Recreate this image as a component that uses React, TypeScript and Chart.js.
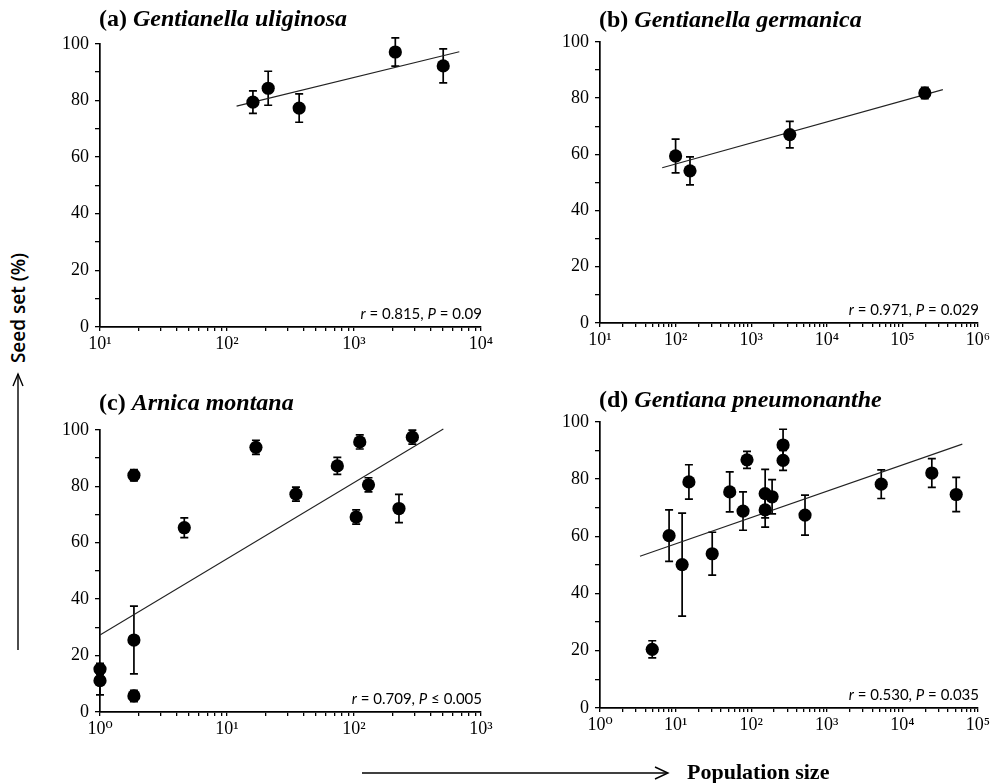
import React, { useEffect, useRef } from 'react';
import { Chart, registerables } from 'chart.js';

Chart.register(...registerables);

// ---- Data ----
const yTickLabels = [0, 20, 40, 60, 80, 100];

// (a) Gentianella uliginosa
const aDecades = [1, 2, 3, 4];
const aX = [160, 211, 370, 2115, 5040];
const aY = [79.4, 84.3, 77.3, 97.1, 92.2];
const aErr = [4, 6, 5, 5, 6];
const aLineX = [119, 6750];
const aLineY = [78, 97.2];

// (b) Gentianella germanica
const bDecades = [1, 2, 3, 4, 5, 6];
const bX = [100, 155, 3240, 198000];
const bY = [59.4, 54.1, 67, 81.8];
const bErr = [6, 5, 4.7, 2];
const bLineX = [66.5, 343000];
const bLineY = [55.2, 83];

// (c) Arnica montana
const cDecades = [0, 1, 2, 3];
const cX = [1, 1, 1.85, 1.85, 1.85, 4.61, 16.9, 34.9, 73.9, 104, 111, 130, 226, 288];
const cY = [15.2, 11.1, 83.9, 25.5, 5.7, 65.3, 93.8, 77.2, 87.2, 69.1, 95.7, 80.5, 72.1, 97.4];
const cErr = [2, 5, 2, 12, 2, 3.5, 2.5, 2.5, 3, 2.5, 2.5, 2.5, 5, 2.5];
const cLineX = [1, 505];
const cLineY = [27.3, 100.3];

// (d) Gentiana pneumonanthe
const dDecades = [0, 1, 2, 3, 4, 5];
const dX = [4.91, 8.2, 12.2, 15, 30.5, 52, 78, 88, 153, 153, 189, 264, 264, 515, 5250, 24500, 51500];
const dY = [20.5, 60.2, 50.1, 79, 53.9, 75.5, 68.8, 86.7, 74.9, 69.2, 73.8, 91.9, 86.5, 67.4, 78.2, 82.1, 74.6];
const dErr = [3, 9, 18, 6, 7.5, 7, 6.7, 3, 8.5, 6, 6, 5.5, 3.5, 7, 5, 5, 6];
const dLineX = [3.38, 62000];
const dLineY = [53, 92.2];

const SUP: Record<string, string> = {
  '0': '\u2070', '1': '\u00B9', '2': '\u00B2', '3': '\u00B3', '4': '\u2074',
  '5': '\u2075', '6': '\u2076', '7': '\u2077', '8': '\u2078', '9': '\u2079',
};

const SERIF = '"Liberation Serif", "DejaVu Serif", serif';

const errorBarPlugin = {
  id: 'errorBars',
  beforeDatasetsDraw(chart: any, _args: any, opts: any) {
    const errs: number[] = opts && opts.errs ? opts.errs : [];
    const meta = chart.getDatasetMeta(0);
    const ys = chart.scales.y;
    const ctx = chart.ctx;
    const data = chart.data.datasets[0].data as any[];
    ctx.save();
    ctx.strokeStyle = '#000';
    ctx.lineWidth = 1.7;
    meta.data.forEach((pt: any, i: number) => {
      const e = errs[i];
      if (!e) return;
      const v = data[i].y;
      const top = ys.getPixelForValue(v + e);
      const bot = ys.getPixelForValue(v - e);
      const x = pt.x;
      ctx.beginPath();
      ctx.moveTo(x, top);
      ctx.lineTo(x, bot);
      ctx.moveTo(x - 4, top);
      ctx.lineTo(x + 4, top);
      ctx.moveTo(x - 4, bot);
      ctx.lineTo(x + 4, bot);
      ctx.stroke();
    });
    ctx.restore();
  },
};

type Area = { L: number; T: number; R: number; B: number };

const Y_W = 60;
const X_H = 32;
const PAD_T = 14;
const PAD_R = 22;

function Panel(props: {
  xs: number[]; ys: number[]; errs: number[]; lineX: number[]; lineY: number[];
  decades: number[]; area: Area; stat: React.ReactNode; title: React.ReactNode;
  titleTop: number;
}) {
  const ref = useRef<HTMLCanvasElement | null>(null);
  const { xs, ys, errs, lineX, lineY, decades, area } = props;
  const W = area.R - area.L + Y_W + PAD_R;
  const H = area.B - area.T + PAD_T + X_H;

  useEffect(() => {
    if (!ref.current) return;
    const minE = decades[0];
    const maxE = decades[decades.length - 1];
    const pts = xs.map((x, i) => ({ x, y: ys[i] }));
    const line = lineX.map((x, i) => ({ x, y: lineY[i] }));
    const chart = new Chart(ref.current, {
      type: 'scatter',
      data: {
        datasets: [
          {
            data: pts,
            pointRadius: 6.6,
            pointHoverRadius: 6.6,
            backgroundColor: '#000',
            borderColor: '#000',
            borderWidth: 0,
            clip: false,
          } as any,
          {
            type: 'line',
            data: line,
            borderColor: '#222',
            borderWidth: 1.1,
            pointRadius: 0,
            fill: false,
            tension: 0,
            clip: false,
          } as any,
        ],
      },
      options: {
        animation: false,
        responsive: false,
        devicePixelRatio: 1,
        events: [],
        layout: { padding: { top: PAD_T, right: PAD_R, left: 0, bottom: 0 } },
        plugins: {
          legend: { display: false },
          tooltip: { enabled: false },
          errorBars: { errs },
        } as any,
        scales: {
          x: {
            type: 'logarithmic',
            min: Math.pow(10, minE),
            max: Math.pow(10, maxE),
            afterBuildTicks: (scale: any) => {
              const t: any[] = [];
              for (let e = minE; e < maxE; e++) {
                for (let m = 1; m <= 9; m++) t.push({ value: m * Math.pow(10, e) });
              }
              t.push({ value: Math.pow(10, maxE) });
              scale.ticks = t;
            },
            afterFit: (scale: any) => { scale.height = X_H; },
            ticks: {
              autoSkip: false,
              maxRotation: 0,
              minRotation: 0,
              padding: 2,
              color: '#000',
              font: { family: SERIF, size: 18 },
              callback: (v: any) => {
                const l = Math.log10(Number(v));
                const r = Math.round(l);
                if (Math.abs(l - r) < 1e-9 && decades.includes(r)) {
                  return '10' + String(r).split('').map((c) => SUP[c]).join('');
                }
                return '';
              },
            },
            grid: {
              display: true,
              drawOnChartArea: false,
              drawTicks: true,
              tickLength: 4,
              color: '#000',
              lineWidth: 1.3,
            },
            border: { display: true, color: '#000', width: 1.7 },
          },
          y: {
            type: 'linear',
            min: 0,
            max: 100,
            afterFit: (scale: any) => { scale.width = Y_W; },
            ticks: {
              stepSize: 10,
              autoSkip: false,
              padding: 6,
              color: '#000',
              font: { family: SERIF, size: 18 },
              callback: (v: any) => (yTickLabels.includes(Number(v)) ? String(v) : ''),
            },
            grid: {
              display: true,
              drawOnChartArea: false,
              drawTicks: true,
              tickLength: 5,
              color: '#000',
              lineWidth: 1.3,
            },
            border: { display: true, color: '#000', width: 1.7 },
          },
        },
      } as any,
      plugins: [errorBarPlugin as any],
    });
    return () => chart.destroy();
  }, []);

  return (
    <>
      <canvas
        ref={ref}
        width={W}
        height={H}
        style={{ position: 'absolute', left: area.L - Y_W, top: area.T - PAD_T, width: W, height: H }}
      />
      <div
        style={{
          position: 'absolute',
          left: area.L - 1,
          top: props.titleTop,
          fontFamily: SERIF,
          fontWeight: 'bold',
          fontSize: 24,
          lineHeight: '27px',
          whiteSpace: 'nowrap',
          color: '#000',
        }}
      >
        {props.title}
      </div>
      <div
        style={{
          position: 'absolute',
          right: 992 - area.R - 1,
          top: area.B - 22,
          fontFamily: 'Lato, "Open Sans", sans-serif',
          fontSize: 15,
          lineHeight: '17px',
          whiteSpace: 'nowrap',
          color: '#000',
        }}
      >
        {props.stat}
      </div>
    </>
  );
}

export default function App() {
  return (
    <div
      style={{
        position: 'absolute',
        left: 0,
        top: 0,
        width: 992,
        height: 783,
        background: '#fff',
        overflow: 'hidden',
      }}
    >
      <Panel
        xs={aX} ys={aY} errs={aErr} lineX={aLineX} lineY={aLineY} decades={aDecades}
        area={{ L: 100, T: 41, R: 481, B: 327 }}
        titleTop={5}
        title={<>(a) <i>Gentianella uliginosa</i></>}
        stat={<><i>r</i> = 0.815, <i>P</i> = 0.09</>}
      />
      <Panel
        xs={bX} ys={bY} errs={bErr} lineX={bLineX} lineY={bLineY} decades={bDecades}
        area={{ L: 600, T: 39, R: 978, B: 323 }}
        titleTop={6}
        title={<>(b) <i>Gentianella germanica</i></>}
        stat={<><i>r</i> = 0.971, <i>P</i> = 0.029</>}
      />
      <Panel
        xs={cX} ys={cY} errs={cErr} lineX={cLineX} lineY={cLineY} decades={cDecades}
        area={{ L: 100, T: 427, R: 481, B: 712 }}
        titleTop={389}
        title={<>(c) <i>Arnica montana</i></>}
        stat={<><i>r</i> = 0.709, <i>P</i> ≤ 0.005</>}
      />
      <Panel
        xs={dX} ys={dY} errs={dErr} lineX={dLineX} lineY={dLineY} decades={dDecades}
        area={{ L: 600, T: 419, R: 978, B: 708 }}
        titleTop={386}
        title={<>(d) <i>Gentiana pneumonanthe</i></>}
        stat={<><i>r</i> = 0.530, <i>P</i> = 0.035</>}
      />

      {/* Y axis label with arrow */}
      <div
        style={{
          position: 'absolute',
          left: 18,
          top: 308,
          transform: 'translate(-50%, -50%) rotate(-90deg)',
          fontFamily: '"Open Sans", Lato, sans-serif',
          fontWeight: 600,
          fontSize: 19,
          whiteSpace: 'nowrap',
          color: '#000',
        }}
      >
        Seed set (%)
      </div>
      <svg
        width={992}
        height={783}
        style={{ position: 'absolute', left: 0, top: 0, pointerEvents: 'none' }}
      >
        <g stroke="#000" strokeWidth={1.4} fill="none">
          <line x1={18} y1={650} x2={18} y2={374} />
          <polyline points="13,386 18,374 23,386" />
          <line x1={362} y1={773} x2={667} y2={773} />
          <polyline points="655,767 668,773 655,779" />
        </g>
      </svg>
      <div
        style={{
          position: 'absolute',
          left: 687,
          top: 759,
          fontFamily: SERIF,
          fontWeight: 'bold',
          fontSize: 22,
          lineHeight: '25px',
          whiteSpace: 'nowrap',
          color: '#000',
        }}
      >
        Population size
      </div>
    </div>
  );
}
